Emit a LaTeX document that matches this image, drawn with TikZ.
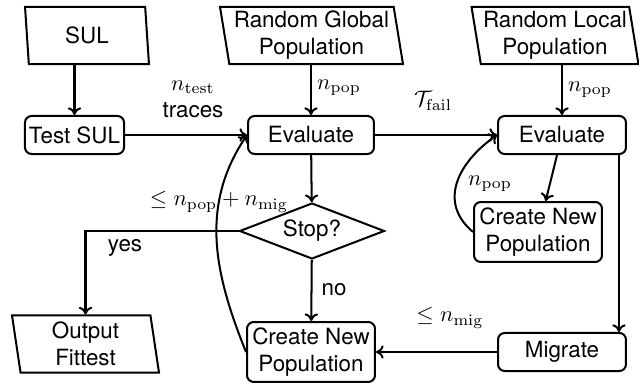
\documentclass[tikz,border=0pt]{standalone}
\usepackage[no-math]{fontspec}
\setmainfont{TeX Gyre Heros}
\usetikzlibrary{shapes.geometric,calc,arrows.meta}

\tikzset{
  base/.style={draw, line width=0.9pt, align=center, inner sep=1pt},
  iobox/.style={base, trapezium, trapezium left angle=100, trapezium right angle=80,
    trapezium stretches body, minimum height=25.5pt},
  procbox/.style={base, rectangle, rounded corners=3pt, minimum height=17pt},
  decision/.style={base, diamond, aspect=2.6, minimum width=64.8pt, minimum height=25pt},
  flow/.style={line width=0.9pt, -{To[length=3.4pt, width=6pt]}},
  lbl/.style={inner sep=0pt}
}

\begin{document}
\begin{tikzpicture}[x=0.447pt, y=-0.447pt]
  \useasboundingbox (0,0) rectangle (639,383);

  % inputs
  \node[iobox, minimum width=55.4pt] (sul) at (87,35.5) {SUL};
  \node[iobox, minimum width=81.8pt] (glob) at (311.5,35.5) {Random Global\\Population};
  \node[iobox, minimum width=68.8pt] (loc) at (555,35.5) {Random Local\\Population};
  \node[iobox, minimum width=65.7pt] (out) at (85.5,344) {Output\\Fittest};

  % processing steps
  \node[procbox, minimum width=44.3pt] (test) at (74.5,135) {Test SUL};
  \node[procbox, minimum width=56.3pt] (eval1) at (311,135) {Evaluate};
  \node[procbox, minimum width=57.2pt] (eval2) at (562,135) {Evaluate};
  \node[decision] (stop) at (312,231) {Stop?};
  \node[procbox, minimum width=57.2pt, minimum height=26.8pt] (new1) at (311,352) {Create New\\Population};
  \node[procbox, minimum width=57.2pt, minimum height=26.8pt] (new2) at (538,232) {Create New\\Population};
  \node[procbox, minimum width=57.2pt] (mig) at (562,352) {Migrate};

  % edge labels
  \node[lbl, align=center] (ltest) at (193,99) {$n_{\mathrm{test}}$\\traces};
  \node[lbl] (lpop1) at (339,88) {$n_{\mathrm{pop}}$};
  \node[lbl] (lfail) at (433,101) {$\mathcal{T}_{\mathrm{fail}}$};
  \node[lbl] (lpop2) at (590,90) {$n_{\mathrm{pop}}$};
  \node[lbl] (lsum) at (219,202) {$\leq n_{\mathrm{pop}} + n_{\mathrm{mig}}$};
  \node[lbl] (lyes) at (125,248) {yes};
  \node[lbl] (lno) at (334,290) {no};
  \node[lbl] (lmig) at (450,318) {$\leq n_{\mathrm{mig}}$};
  \node[lbl] (lpop3) at (490,184) {$n_{\mathrm{pop}}$};

  % connectors
  \draw[flow] (sul.south -| test.north) -- (test.north);
  \draw[flow] (glob.south -| eval1.north) -- (eval1.north);
  \draw[flow] (loc.south -| eval2.north) -- (eval2.north);
  \draw[flow] (test) -- (eval1);
  \draw[flow] (eval1) -- (eval2);
  \draw[flow] (eval1) -- (stop);
  \draw[flow] (stop) -- (new1);
  \draw[flow] (stop.west) -| (out.north);
  \draw[flow] (eval2) -- (new2);
  \draw[flow] ($(eval2.south east)+(-8,0)$) -- ($(mig.north east)+(-8,0)$);
  \draw[flow] (mig) -- (new1);
  \draw[flow] (new1.west) to[out=112, in=236] (eval1.west);
  \draw[flow] (new2.west) to[out=140, in=215, looseness=1.2] (eval2.west);
\end{tikzpicture}
\end{document}
